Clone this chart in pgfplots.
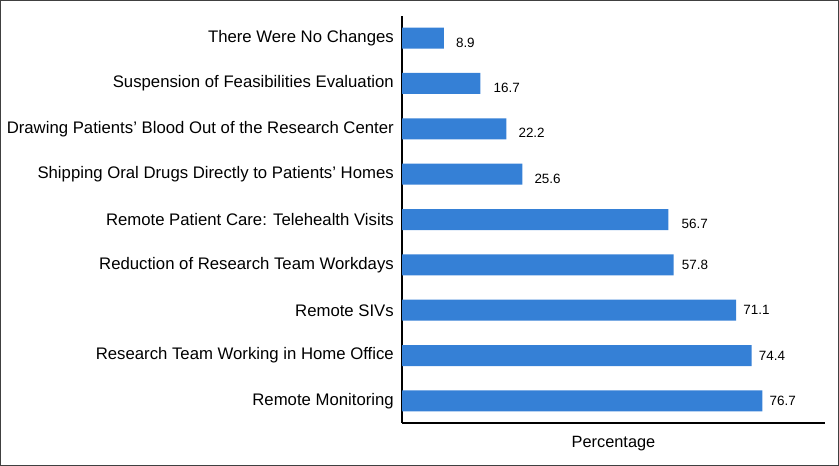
\documentclass[border=0pt]{standalone}
\usepackage{pgfplots}
\pgfplotsset{compat=1.18}
\usepackage{fontspec}
\setmainfont{Liberation Sans}
\definecolor{barblue}{RGB}{53,128,214}
\begin{document}
\begin{tikzpicture}
\path[use as bounding box] (0,0) rectangle (839bp,466bp);
\draw[black!75, line width=1.2bp] (0.6bp,0.6bp) rectangle (838.4bp,465.4bp);
\begin{axis}[
  at={(402bp,43bp)}, anchor=south west,
  scale only axis, width=423bp, height=407bp,
  xbar, bar width=21bp,
  xmin=0, xmax=90,
  ymin=-0.485, ymax=8.485,
  axis x line*=bottom, axis y line*=left,
  axis line style={line width=1.3bp, -},
  xtick=\empty,
  ytick={0,...,8},
  major tick length=0pt,
  yticklabels={Remote Monitoring, Research Team Working in Home Office, Remote SIVs, Reduction of Research Team Workdays, Remote Patient Care: Telehealth Visits, Shipping Oral Drugs Directly to Patients’ Homes, Drawing Patients’ Blood Out of the Research Center, Suspension of Feasibilities Evaluation, There Were No Changes},
  yticklabel style={font=\fontsize{16.8}{18}\selectfont, inner sep=0pt, xshift=-8bp},
  xlabel={Percentage},
  xlabel style={font=\fontsize{16.4}{18}\selectfont, at={(0.5,0)}, anchor=north, yshift=-10bp},
  nodes near coords,
  visualization depends on={\thisrow{dx} \as \dx},
  visualization depends on={\thisrow{dy} \as \dy},
  every node near coord/.append style={font=\fontsize{13.5}{15}\selectfont, black, anchor=west, inner sep=0pt, xshift=\dx bp, yshift=\dy bp},
  point meta=explicit symbolic,
]
\addplot[fill=barblue, draw=none] table[meta=l] {
x y l dx dy
76.7 0 76.7 7 0
74.4 1 74.4 7 0
71.1 2 71.1 7 0
57.8 3 57.8 8 0
56.7 4 56.7 13 -4.5
25.6 5 25.6 12 -4.5
22.2 6 22.2 12 -4.5
16.7 7 16.7 13 -4.5
8.9 8 8.9 12 -4.5
};
\end{axis}
\end{tikzpicture}
\end{document}
